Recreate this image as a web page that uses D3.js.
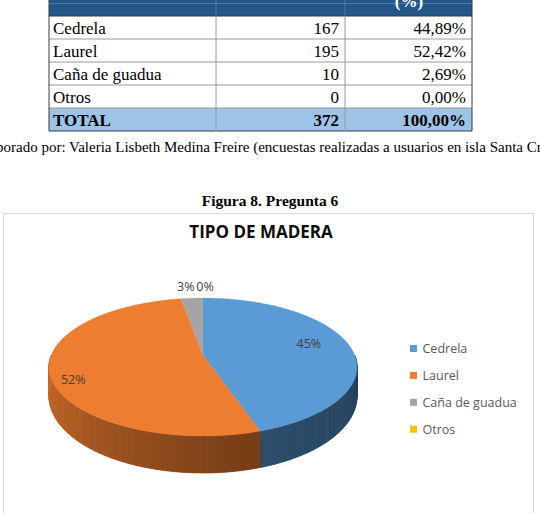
<!DOCTYPE html>
<html>
<head>
<meta charset="utf-8">
<script src="https://cdn.jsdelivr.net/npm/d3@7"></script>
<style>
  html, body { margin: 0; padding: 0; background: #fff; overflow: hidden; }
  svg { display: block; }
</style>
</head>
<body>
<script>
// datos de la tabla / grafico
const categories = ['Cedrela', 'Laurel', 'Caña de guadua', 'Otros'];
const counts = [167, 195, 10, 0];
const colors = ['#5B9BD5', '#ED7D31', '#A5A5A5', '#FFC000'];
const totalLabel = 'TOTAL';
const figTitle = 'Figura 8. Pregunta 6';
const chartTitle = 'TIPO DE MADERA';
const caption = 'Elaborado por: Valeria Lisbeth Medina Freire (encuestas realizadas a usuarios en isla Santa Cruz)';

const W = 540, H = 513;
const svg = d3.select('body').append('svg').attr('width', W).attr('height', H);

const total = d3.sum(counts);
const es = d3.formatLocale({ decimal: ',', thousands: '.', grouping: [3], currency: ['', ''] });
const fmtPct = es.format('.2%');

// ---------- tabla ----------
const colX = [49, 216, 345, 472];
const rowH = 23;
const tableTop = 16;
const serif = '"Liberation Serif", "Times New Roman", serif';

svg.append('rect').attr('x', colX[0]).attr('y', -10).attr('width', colX[3] - colX[0]).attr('height', 26).attr('fill', '#235689');
svg.append('line').attr('x1', colX[0]).attr('x2', colX[3]).attr('y1', 3.5).attr('y2', 3.5).attr('stroke', '#4d7bab').attr('stroke-width', 1);
[1, 2].forEach(i => {
  svg.append('line').attr('x1', colX[i]).attr('x2', colX[i]).attr('y1', -10).attr('y2', 16).attr('stroke', '#4d7bab');
});
svg.append('text').attr('x', 409).attr('y', 7).attr('text-anchor', 'middle')
  .attr('font-family', serif).attr('font-weight', 'bold').attr('font-size', 17).attr('fill', '#fff').text('(%)');

const rows = categories.map((c, i) => ({ name: c, n: counts[i], p: counts[i] / total, bold: false }));
rows.push({ name: totalLabel, n: total, p: 1, bold: true });

const rowG = svg.selectAll('g.row').data(rows).enter().append('g')
  .attr('transform', (d, i) => `translate(0, ${tableTop + i * rowH})`);
rowG.append('rect').attr('x', colX[0]).attr('y', 0).attr('width', colX[3] - colX[0]).attr('height', rowH)
  .attr('fill', d => d.bold ? '#9DC3E6' : '#fff');
rowG.append('text').attr('x', colX[0] + 4).attr('y', 18)
  .attr('font-family', serif).attr('font-size', 17).attr('font-weight', d => d.bold ? 'bold' : 'normal')
  .attr('fill', '#000').text(d => d.name);
rowG.append('text').attr('x', colX[2] - 6).attr('y', 18).attr('text-anchor', 'end')
  .attr('font-family', serif).attr('font-size', 17).attr('font-weight', d => d.bold ? 'bold' : 'normal')
  .text(d => d.n);
rowG.append('text').attr('x', colX[3] - 6).attr('y', 18).attr('text-anchor', 'end')
  .attr('font-family', serif).attr('font-size', 17).attr('font-weight', d => d.bold ? 'bold' : 'normal')
  .text(d => fmtPct(d.p));

// lineas de la tabla
const tBottom = tableTop + rows.length * rowH;
d3.range(rows.length + 1).forEach(i => {
  svg.append('line').attr('x1', colX[0]).attr('x2', colX[3])
    .attr('y1', tableTop + i * rowH).attr('y2', tableTop + i * rowH)
    .attr('stroke', i === 0 || i === rows.length ? '#3b3b3b' : '#9a9a9a').attr('stroke-width', 1);
});
colX.forEach((x, i) => {
  svg.append('line').attr('x1', x).attr('x2', x).attr('y1', tableTop).attr('y2', tBottom)
    .attr('stroke', i === 0 || i === 3 ? '#3b3b3b' : '#9a9a9a').attr('stroke-width', 1);
});
svg.append('line').attr('x1', colX[0]).attr('x2', colX[0]).attr('y1', -10).attr('y2', 16).attr('stroke', '#3b3b3b');
svg.append('line').attr('x1', colX[3]).attr('x2', colX[3]).attr('y1', -10).attr('y2', 16).attr('stroke', '#3b3b3b');

svg.append('text').attr('x', -24).attr('y', 152).attr('font-family', serif).attr('font-size', 15)
  .attr('fill', '#000').text(caption);

svg.append('text').attr('x', 270).attr('y', 206).attr('text-anchor', 'middle')
  .attr('font-family', serif).attr('font-weight', 'bold').attr('font-size', 15.5).text(figTitle);

// ---------- area del grafico ----------
const sans = '"Open Sans", "Noto Sans", sans-serif';
svg.append('rect').attr('x', 3.5).attr('y', 213.5).attr('width', 530).attr('height', 320)
  .attr('fill', '#fff').attr('stroke', '#d9d9d9');

svg.append('text').attr('x', 261).attr('y', 238).attr('text-anchor', 'middle')
  .attr('font-family', sans).attr('font-weight', 'bold').attr('font-size', 17).attr('fill', '#0d0d0d')
  .text(chartTitle);

// pastel 3D con perspectiva
const k = 0.17;
const cx = 203, cy = 355.3, Sx = 151.8, Sy = 67;
const px = d3.scaleLinear().domain([-1, 1]).range([cx - Sx, cx + Sx]);
const py = d3.scaleLinear().domain([-1, 1]).range([cy - Sy, cy + Sy]);
const depth = d3.scaleLinear().domain([0, 1]).range([27, 37]).clamp(true);
const shade = d3.scaleLinear().domain([Math.PI / 2, Math.PI * 0.95, Math.PI * 1.5]).range([0.42, 0.52, 0.88]);

function proj(a, r) {
  const u = Math.sin(a) * r, v = -Math.cos(a) * r;
  const w = 1 - k * v;
  return [px(u / w), py(v / w)];
}
function projBottom(a) {
  const p = proj(a, 1);
  return [p[0], p[1] + depth(-Math.cos(a))];
}
function darken(col, f) {
  const c = d3.rgb(col);
  return d3.rgb(c.r * f, c.g * f, c.b * f).formatHex();
}

const arcs = d3.pie().sort(null).value(d => d)(counts);
const gPie = svg.append('g');
const step = Math.PI / 360;

// paredes laterales (mitad frontal)
arcs.forEach((a, i) => {
  const a0 = Math.max(a.startAngle, Math.PI / 2), a1 = Math.min(a.endAngle, Math.PI * 1.5);
  if (a1 <= a0) return;
  for (let t = a0; t < a1; t += step) {
    const t2 = Math.min(t + step * 1.6, a1);
    const p1 = proj(t, 1), p2 = proj(t2, 1), b2 = projBottom(t2), b1 = projBottom(t);
    const col = darken(colors[i], shade((t + t2) / 2));
    gPie.append('path').attr('d', 'M' + [p1, p2, b2, b1].join('L') + 'Z')
      .attr('fill', col).attr('stroke', col).attr('stroke-width', 0.4);
  }
});

// caras superiores
arcs.forEach((a, i) => {
  if (a.endAngle - a.startAngle <= 0) return;
  const pts = [proj(0, 0)];
  const n = Math.max(2, Math.ceil((a.endAngle - a.startAngle) / step));
  for (let j = 0; j <= n; j++) pts.push(proj(a.startAngle + (a.endAngle - a.startAngle) * j / n, 1));
  gPie.append('path').attr('d', 'M' + pts.join('L') + 'Z').attr('fill', colors[i])
    .attr('stroke', colors[i]).attr('stroke-width', 0.3);
});

// etiquetas de datos
const labelR = [0.72, 0.85, 1.25, 1.25];
const labelDx = [0, 0, -4, 2];
const labelDy = [-4, 10, 0, 0];
const fmtShort = d3.format('.0%');
arcs.forEach((a, i) => {
  const mid = (a.startAngle + a.endAngle) / 2;
  const p = proj(mid, labelR[i]);
  gPie.append('text').attr('x', p[0] + labelDx[i]).attr('y', p[1] + labelDy[i]).attr('dy', '0.35em')
    .attr('text-anchor', 'middle').attr('font-family', sans).attr('font-size', 12.5)
    .attr('fill', '#404040').text(fmtShort(counts[i] / total));
});

// leyenda
const leg = svg.selectAll('g.leg').data(categories).enter().append('g')
  .attr('transform', (d, i) => `translate(410, ${348.5 + i * 26.9})`);
leg.append('rect').attr('x', 0).attr('y', -3.5).attr('width', 7).attr('height', 7).attr('fill', (d, i) => colors[i]);
leg.append('text').attr('x', 12.5).attr('y', 0).attr('dy', '0.35em').attr('font-family', sans)
  .attr('font-size', 12.5).attr('fill', '#595959').text(d => d);
</script>
</body>
</html>
